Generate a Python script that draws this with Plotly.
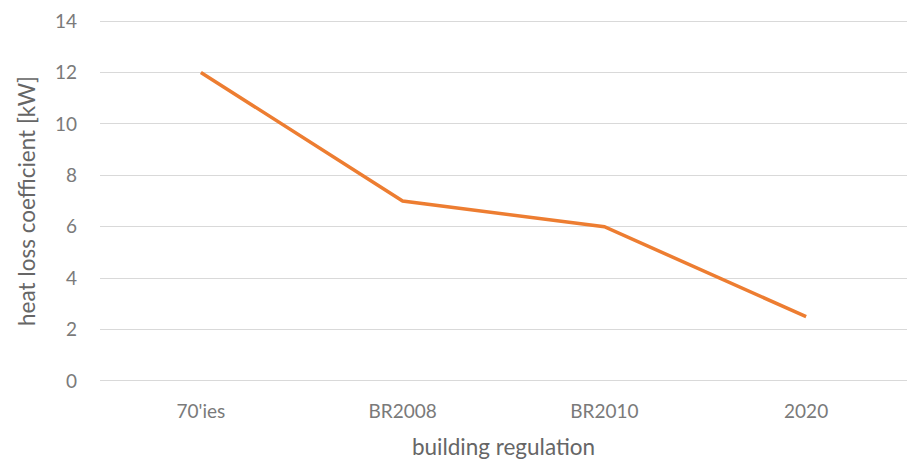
import plotly.graph_objects as go

categories = ["70'ies", "BR2008", "BR2010", "2020"]
heat_loss = [12, 7, 6, 2.5]
y_ticks = [0, 2, 4, 6, 8, 10, 12, 14]

fig = go.Figure()
fig.add_trace(go.Scatter(
    x=categories, y=heat_loss, mode="lines",
    line=dict(color="#ED7D31", width=3.5),
    showlegend=False,
))

fig.update_layout(
    width=912, height=464,
    margin=dict(l=100, r=5, t=20, b=82),
    paper_bgcolor="white", plot_bgcolor="white",
    font=dict(family="Lato, 'Open Sans', sans-serif", color="#595959", size=20),
)
fig.update_xaxes(
    type="category", range=[-0.5, 3.5],
    showgrid=False, showline=False, zeroline=False,
    ticks="", ticklabelstandoff=16,
    title=dict(text="building regulation", standoff=18, font=dict(size=22.5, color="#666666")),
    tickfont=dict(size=19, color="#7a7a7a"),
)
fig.update_yaxes(
    range=[-0.04, 14.04], tickvals=y_ticks, showgrid=True, gridcolor="#D9D9D9", gridwidth=1.2,
    zeroline=False, showline=False, ticks="", ticklabelstandoff=22,
    title=dict(text="heat loss coefficient [kW]", standoff=13, font=dict(size=22.5, color="#666666")),
    tickfont=dict(size=19, color="#7a7a7a"),
)

fig.write_html("out.html")
